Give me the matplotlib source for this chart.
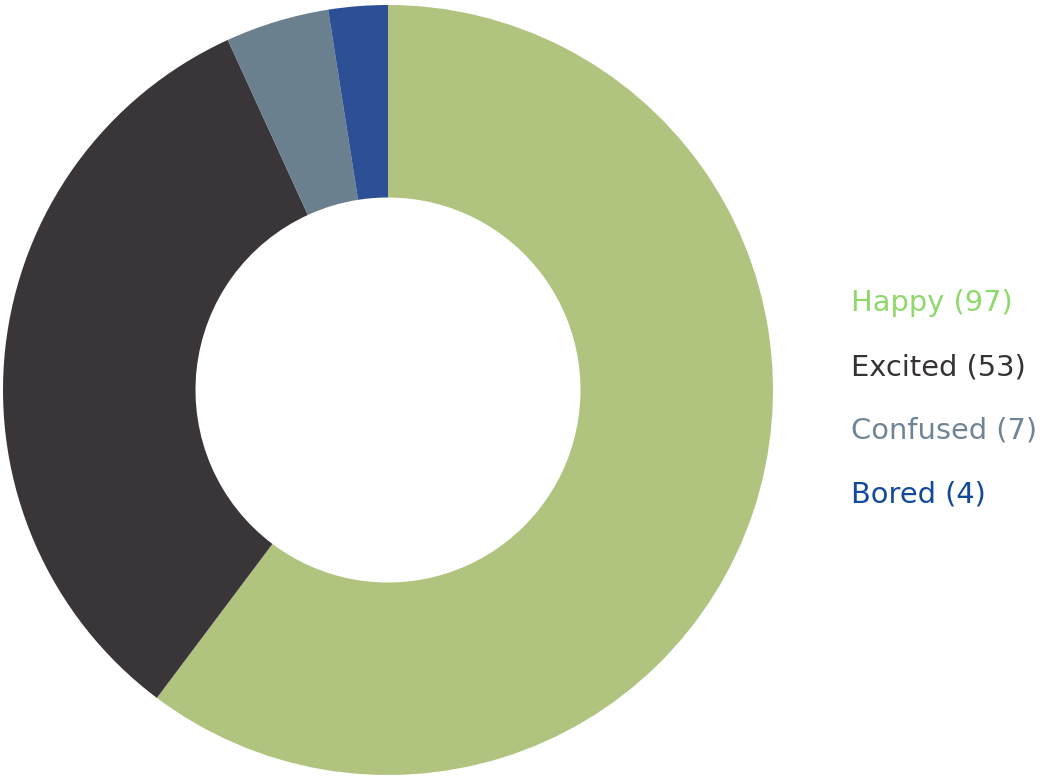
import matplotlib.pyplot as plt

labels = ['Happy', 'Excited', 'Confused', 'Bored']
counts = [97, 53, 7, 4]
wedge_colors = ['#b0c47f', '#3a3538', '#6b808f', '#2c4f96']
label_colors = ['#8fd86b', '#363234', '#6f8596', '#13499a']

W, H = 1043, 778
fig = plt.figure(figsize=(W / 100, H / 100), dpi=100)

# donut on the left, centred around (388, 390) px
cx, cy, r = 388, 390, 385
ax = fig.add_axes([(cx - r) / W, (H - cy - r) / H, 2 * r / W, 2 * r / H])
ax.pie(counts, colors=wedge_colors, startangle=90, counterclock=False,
       radius=1, wedgeprops=dict(width=0.5, linewidth=0))
ax.set_xlim(-1, 1)
ax.set_ylim(-1, 1)
ax.set_aspect('equal')
ax.axis('off')

# legend drawn as plain text lines
y0, step = 303, 64
for i, (lab, n, c) in enumerate(zip(labels, counts, label_colors)):
    fig.text(851 / W, 1 - (y0 + i * step) / H, f'{lab} ({n})',
             color=c, fontsize=20.8, family='DejaVu Sans',
             ha='left', va='center')

fig.savefig('out.png', dpi=100)
